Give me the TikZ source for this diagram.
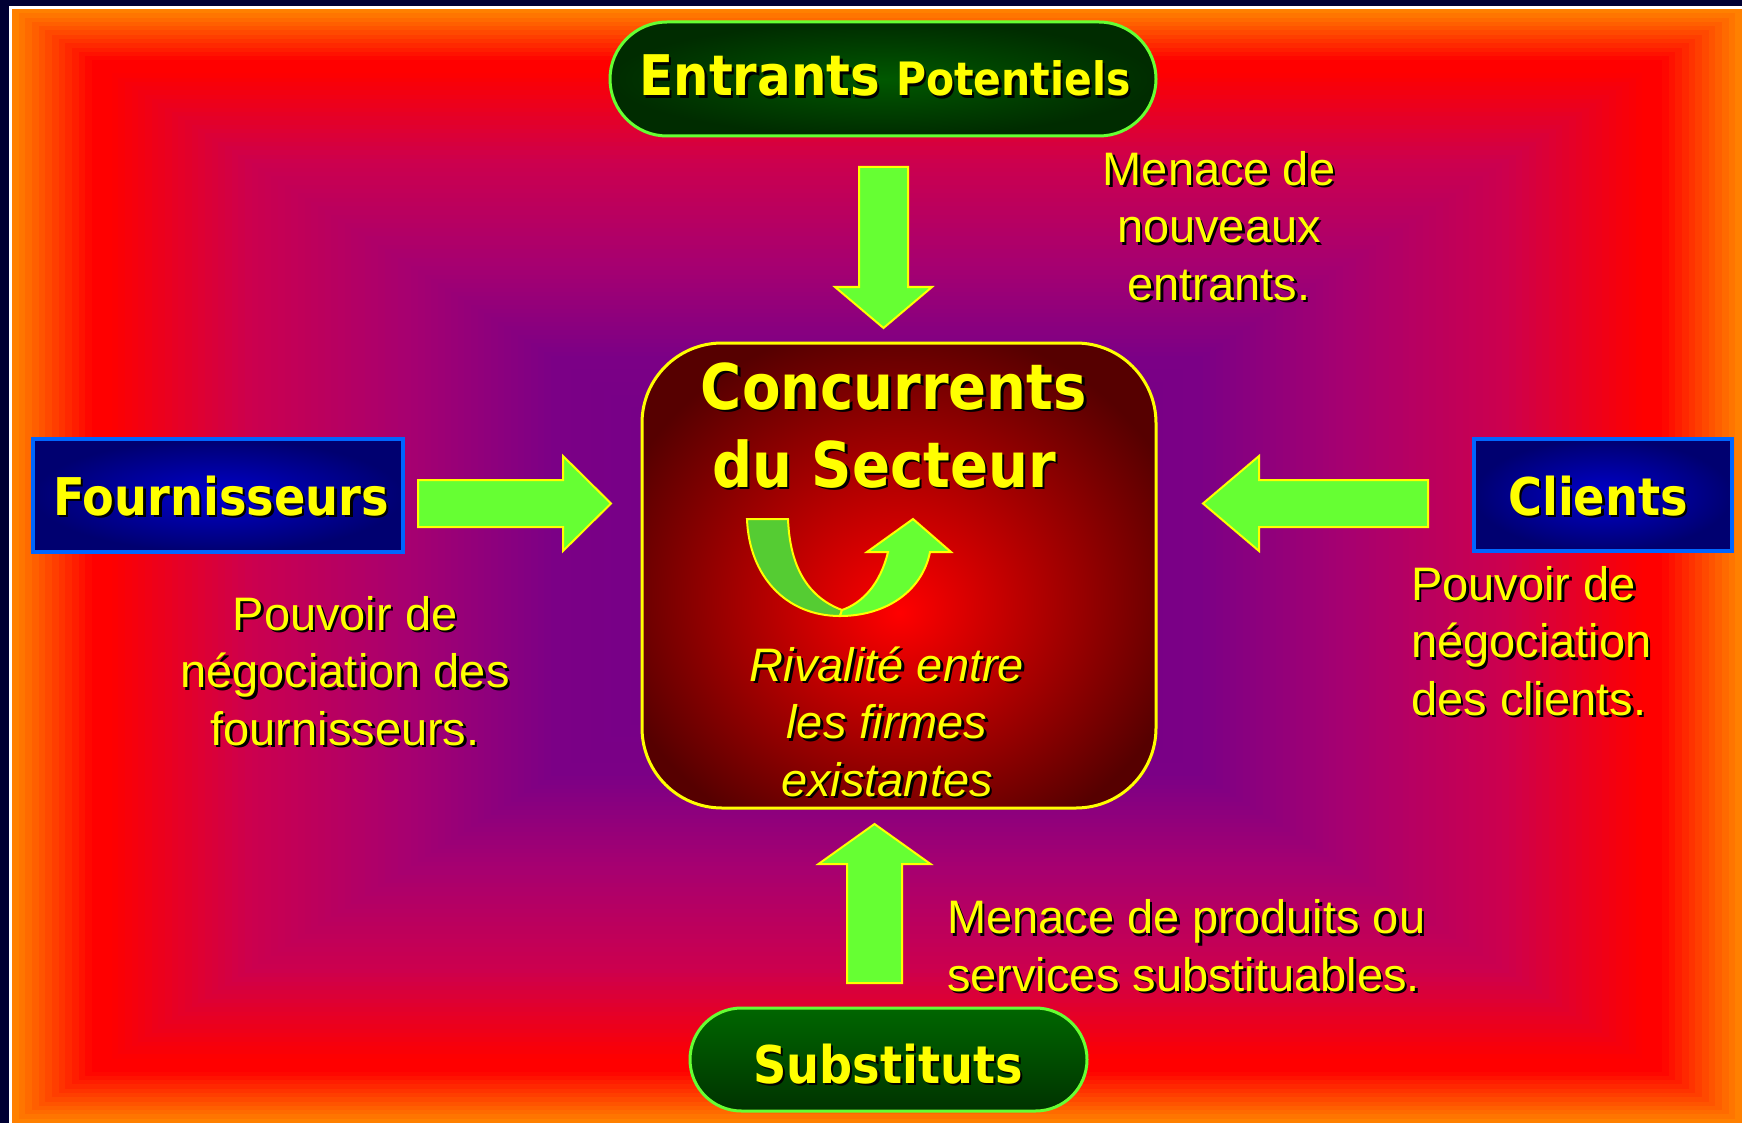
\documentclass[tikz,border=0pt]{standalone}
\usepackage{fontspec}
\setmainfont{Liberation Sans}
\newfontfamily\titlefont[FakeStretch=0.89]{DejaVu Sans}
\usetikzlibrary{calc}

\definecolor{navyF}{HTML}{000033}
\definecolor{arrowG}{HTML}{66FF33}
\definecolor{arrowD}{HTML}{55CC33}
\definecolor{txtY}{HTML}{FFFF00}
\definecolor{blueB}{HTML}{0066FF}
\definecolor{blueIn}{HTML}{0000CC}
\definecolor{blueOut}{HTML}{000070}
\definecolor{concC}{HTML}{FF0000}
\definecolor{concE}{HTML}{560000}
\definecolor{greenIn}{HTML}{005800}
\definecolor{greenOut}{HTML}{002C00}
\definecolor{greenTop}{HTML}{006600}
\definecolor{greenBot}{HTML}{003300}

\pgfdeclareradialshading{concshade}{\pgfpoint{0bp}{-4bp}}{color(0bp)=(concC); color(29bp)=(concE); color(50bp)=(concE)}

\newcommand\shtxt[4]{%
  \node[#3, text=black] (#1s) at ([shift={(2.5pt,-2.5pt)}]#2) {#4};
  \node[#3, text=txtY] (#1) at (#2) {#4};
}

\newcommand\blockarrow[5]{%
  \coordinate (#1-hb) at ($(#2)!#5!(#1)$);
  \path[barrow]
    ($(#1)!#3!90:(#2)$) -- ($(#1-hb)!#3!90:(#2)$) -- ($(#1-hb)!#4!90:(#2)$)
    -- (#2) -- ($(#1-hb)!#4!-90:(#2)$) -- ($(#1-hb)!#3!-90:(#2)$)
    -- ($(#1)!#3!-90:(#2)$) -- cycle;
}

\begin{document}
\begin{tikzpicture}[x=1pt,y=-1pt,line join=miter,
  barrow/.style={fill=arrowG, draw=txtY, line width=2pt},
  title/.style={font={\titlefont\bfseries\fontsize{52}{60}\selectfont}, inner sep=0pt, anchor=base},
  concT/.style={font={\titlefont\bfseries\fontsize{63}{70}\selectfont}, inner sep=0pt, anchor=base},
  body/.style={font={\fontsize{47}{57.5}\selectfont}, inner sep=0pt, anchor=base, align=center},
  bodyL/.style={font={\fontsize{47}{57.5}\selectfont}, inner sep=0pt, anchor=base west, align=left},
  ital/.style={font={\itshape\fontsize{47}{57.5}\selectfont}, inner sep=0pt, anchor=base, align=center},
  pill/.style={draw=arrowG, line width=3pt, inner sep=0pt},
  bluebox/.style={draw=blueB, line width=3.5pt, inner color=blueIn, outer color=blueOut, inner sep=0pt}]

\useasboundingbox (0,0) rectangle (1742,1123);

% background frame and rectangular gradient
\fill[navyF] (0,0) rectangle (1742,1123);
\fill[white] (9,6) rectangle (1742,1123);
\foreach \i in {0,...,130} {
  \pgfmathsetmacro\t{\i/130}
  \pgfmathtruncatemacro\R{\t<0.11 ? 255 : (\t<0.27 ? 255-(\t-0.11)/0.16*50 : (\t<0.45 ? 205-(\t-0.27)/0.18*37 : (\t<0.62 ? 168-(\t-0.45)/0.17*44 : 124-(\t-0.62)/0.38*16)))}
  \pgfmathtruncatemacro\G{\t<0.09 ? 128*(1-\t/0.09) : 0}
  \pgfmathtruncatemacro\B{\t<0.11 ? 0 : (\t<0.27 ? (\t-0.11)/0.16*78 : (\t<0.45 ? 78+(\t-0.27)/0.18*34 : (\t<0.62 ? 112+(\t-0.45)/0.17*22 : 134+(\t-0.62)/0.38*6)))}
  \definecolor{bgc}{RGB}{\R,\G,\B}
  \fill[bgc] ({12+\t*865},{9+\t*557}) rectangle ({1742-\t*865},{1123-\t*557});
}

% boxes
\node[pill, minimum width=546pt, minimum height=114pt, rounded corners=57pt,
      inner color=greenIn, outer color=greenOut] (entrants) at (883,79) {};
\node[pill, minimum width=397pt, minimum height=103pt, rounded corners=51.5pt,
      top color=greenTop, bottom color=greenBot] (substituts) at (888.5,1059.5) {};
\node[bluebox, minimum width=370pt, minimum height=113pt] (fournisseurs) at (218,495.5) {};
\node[bluebox, minimum width=258pt, minimum height=112pt] (clients) at (1603,495) {};
\node[draw=txtY, line width=3pt, shading=concshade, rounded corners=80pt,
      minimum width=514pt, minimum height=465pt, inner sep=0pt] (conc) at (899,575.5) {};

% block arrows
\coordinate (dnT) at (883.5,167);  \coordinate (dnP) at (883.5,328);
\coordinate (upT) at (874.5,983);  \coordinate (upP) at (874.5,824);
\coordinate (rtT) at (418,503.5);  \coordinate (rtP) at (611,503.5);
\coordinate (lfT) at (1428,503.5); \coordinate (lfP) at (1203,503.5);
\blockarrow{dnT}{dnP}{24.5pt}{48.5pt}{41pt}
\blockarrow{upT}{upP}{27.5pt}{56pt}{40pt}
\blockarrow{rtT}{rtP}{23.5pt}{47.5pt}{48pt}
\blockarrow{lfT}{lfP}{23.5pt}{47.5pt}{56pt}

% curved U-turn arrow inside the central box
\path[fill=arrowD, draw=txtY, line width=2pt]
  (747,519) -- (788,519) .. controls (790,570) and (810,598) .. (842,610)
  -- (840,616) .. controls (785,616) and (749,575) .. (747,519) -- cycle;
\path[fill=arrowG, draw=txtY, line width=2pt]
  (840,616) .. controls (885,616) and (922,592) .. (930,552)
  -- (951,552) -- (913,519) -- (867,552) -- (888,552)
  .. controls (880,585) and (862,603) .. (842,610) -- cycle;

% texts
\shtxt{tEnt}{885,96}{title}{{\fontsize{56}{60}\selectfont Entrants} {\fontsize{46}{60}\selectfont Potentiels}}
\shtxt{tFour}{221,515}{title}{Fournisseurs}
\shtxt{tCli}{1598,515}{title}{Clients}
\shtxt{tSub}{888,1083}{title}{Substituts}
\shtxt{tConc}{894,409}{concT}{Concurrents}
\shtxt{tSect}{884,487}{concT}{du Secteur}
\shtxt{tRiv}{887,796}{ital}{Rivalité entre\\les firmes\\existantes}
\shtxt{tMen}{1219,300}{body}{Menace de\\nouveaux\\entrants.}
\shtxt{tPf}{345,745}{body}{Pouvoir de\\négociation des\\fournisseurs.}
\shtxt{tPc}{1411,715}{bodyL}{Pouvoir de\\négociation\\des clients.}
\shtxt{tMs}{947,991}{bodyL}{Menace de produits ou\\services substituables.}
\end{tikzpicture}
\end{document}
